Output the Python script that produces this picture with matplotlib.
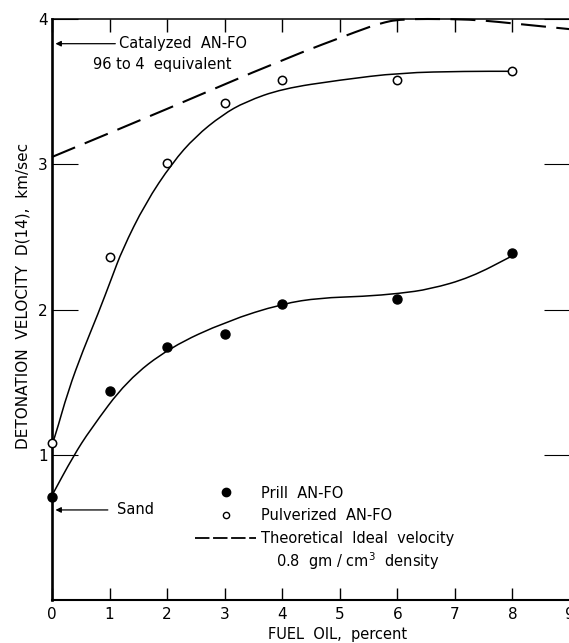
import matplotlib
matplotlib.use("Agg")
import matplotlib.pyplot as plt
from matplotlib.path import Path
from matplotlib.patches import PathPatch
from matplotlib.lines import Line2D

plt.rcParams['font.family'] = ['DejaVu Sans']

# measured detonation velocities, km/sec
fuel_oil = [0, 1, 2, 3, 4, 6, 8]
prill = [0.71, 1.44, 1.74, 1.83, 2.04, 2.07, 2.39]
pulverized = [1.08, 2.36, 3.01, 3.42, 3.58, 3.58, 3.64]

# hand-faired curves through the data
prill_fit_x = [0, 0.37, 0.66, 1.3, 2.05, 3.04, 4.0, 4.66, 5.41, 6.03, 6.57, 7.27, 8.0]
prill_fit_y = [0.72, 0.99, 1.17, 1.51, 1.74, 1.92, 2.04, 2.08, 2.09, 2.11, 2.14, 2.22, 2.37]
pulv_fit_x = [0, 0.05, 0.28, 0.54, 0.8, 1.04, 1.22, 1.62, 2.09, 2.49, 2.96, 3.36, 4.0, 5.0, 6.05, 7.2, 8.0]
pulv_fit_y = [1.08, 1.12, 1.44, 1.72, 1.97, 2.22, 2.41, 2.73, 3.01, 3.19, 3.34, 3.43, 3.52, 3.58, 3.63, 3.64, 3.64]

# theoretical ideal velocity at 0.8 gm/cm3
ideal_x = [0, 2, 4, 5.4, 5.7, 6.05, 7.0, 7.5, 8.0, 9.0]
ideal_y = [3.05, 3.38, 3.72, 3.93, 3.97, 4.0, 4.0, 3.99, 3.97, 3.93]

catalyzed = 3.83
sand = 0.62


def smooth_path(xs, ys):
    # quadratic bezier through the midpoints, so the line has no corners
    pts = list(zip(xs, ys))
    mids = [((pts[i][0] + pts[i + 1][0]) / 2, (pts[i][1] + pts[i + 1][1]) / 2)
            for i in range(len(pts) - 1)]
    verts = [pts[0], mids[0]]
    codes = [Path.MOVETO, Path.LINETO]
    for i in range(1, len(pts) - 1):
        verts += [pts[i], mids[i]]
        codes += [Path.CURVE3, Path.CURVE3]
    verts.append(pts[-1])
    codes.append(Path.LINETO)
    return Path(verts, codes)


fig = plt.figure(figsize=(5.69, 6.43), dpi=100)
ax = fig.add_axes([52 / 569, 43 / 643, 518 / 569, 581 / 643])

ax.add_patch(PathPatch(smooth_path(prill_fit_x, prill_fit_y), fill=False,
                       color='black', lw=1.1))
ax.add_patch(PathPatch(smooth_path(pulv_fit_x, pulv_fit_y), fill=False,
                       color='black', lw=1.1))
ax.add_patch(PathPatch(smooth_path(ideal_x, ideal_y), fill=False,
                       color='black', lw=1.5, linestyle=(0, (12, 5)), clip_on=False))

ax.plot(fuel_oil, prill, 'o', color='black', ms=6.5, clip_on=False, zorder=5)
ax.plot(fuel_oil, pulverized, 'o', mfc='white', mec='black', mew=1.1, ms=6,
        clip_on=False, zorder=5)

ax.set_xlim(0, 9)
ax.set_ylim(0, 4)
ax.set_xticks(range(10))
ax.set_yticks([1, 2, 3, 4])

ax.spines['right'].set_visible(False)
ax.spines['left'].set_linewidth(1.9)
ax.spines['bottom'].set_linewidth(1.5)
ax.spines['top'].set_linewidth(1.1)
ax.tick_params(axis='x', direction='in', top=True, bottom=True, length=9,
               width=1.0, pad=5, labelsize=11)
ax.tick_params(axis='y', direction='in', left=True, right=True, length=19,
               width=0.8, pad=3, labelsize=11)

# arrows to the reference values on the axis
arrow = dict(arrowstyle='-|>', color='black', lw=0.9, mutation_scale=8,
             shrinkA=0, shrinkB=0)
ax.annotate('', xy=(0.06, catalyzed), xytext=(1.1, catalyzed), arrowprops=arrow)
ax.text(1.16, catalyzed, 'Catalyzed  AN-FO', fontsize=10.5, va='center')
ax.text(0.71, 3.69, '96 to 4  equivalent', fontsize=10.5, va='center')
ax.annotate('', xy=(0.06, sand), xytext=(0.97, sand), arrowprops=arrow)
ax.text(1.13, sand, 'Sand', fontsize=10.5, va='center')

handles = [Line2D([], [], ls='none', marker='o', color='black', ms=6),
           Line2D([], [], ls='none', marker='o', mfc='white', mec='black', ms=4.5),
           Line2D([], [], color='black', lw=1.3, dashes=(8, 2))]
labels = ['Prill  AN-FO', 'Pulverized  AN-FO', 'Theoretical  Ideal  velocity']
ax.legend(handles, labels, loc='upper left', bbox_to_anchor=(0.276, 0.197),
          frameon=False, fontsize=10.5, handlelength=4.2, handletextpad=0.3,
          labelspacing=0.52, borderpad=0, borderaxespad=0)
ax.text(3.9, 0.27, '0.8  gm / cm$^3$  density', fontsize=10.5, va='center')

ax.set_xlabel('FUEL  OIL,  percent', fontsize=10.5)
ax.xaxis.set_label_coords(0.552, -0.046)
fig.text(0.04, 0.54, 'DETONATION  VELOCITY  D(14),  km/sec', rotation=90,
         ha='center', va='center', fontsize=11)

fig.savefig('out.png', dpi=100)
